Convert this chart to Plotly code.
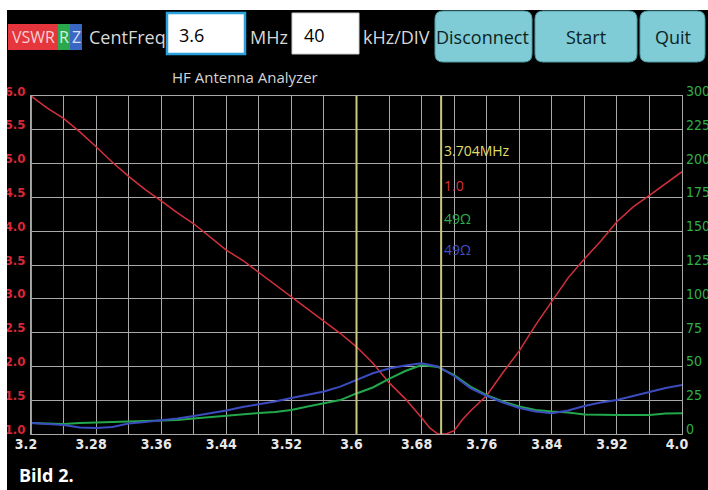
import plotly.graph_objects as go

# ---------------- data ----------------
vswr_freq = [3.20, 3.22, 3.24, 3.26, 3.28, 3.30, 3.32, 3.34, 3.36, 3.38, 3.40,
             3.42, 3.44, 3.46, 3.48, 3.50, 3.52, 3.54, 3.56, 3.58, 3.60, 3.62,
             3.64, 3.66, 3.68, 3.69, 3.70, 3.71, 3.72, 3.73, 3.74, 3.76, 3.78,
             3.80, 3.82, 3.84, 3.86, 3.88, 3.90, 3.92, 3.94, 3.96, 3.98, 4.00]
vswr = [6.00, 5.82, 5.67, 5.47, 5.25, 5.02, 4.81, 4.62, 4.45, 4.27, 4.11,
        3.91, 3.72, 3.57, 3.39, 3.20, 3.02, 2.85, 2.67, 2.49, 2.29, 2.05,
        1.76, 1.52, 1.24, 1.09, 1.00, 1.00, 1.05, 1.21, 1.34, 1.57, 1.91,
        2.23, 2.61, 2.97, 3.31, 3.59, 3.85, 4.14, 4.36, 4.53, 4.71, 4.88]

rz_freq = [3.20, 3.22, 3.24, 3.26, 3.28, 3.30, 3.32, 3.34, 3.36, 3.38, 3.40,
           3.42, 3.44, 3.46, 3.48, 3.50, 3.52, 3.54, 3.56, 3.58, 3.60, 3.62,
           3.64, 3.66, 3.68, 3.70, 3.72, 3.74, 3.76, 3.78, 3.80, 3.82, 3.84,
           3.86, 3.88, 3.90, 3.92, 3.94, 3.96, 3.98, 4.00]
r_ohm = [8.1, 7.8, 7.4, 8.1, 8.5, 8.5, 8.9, 9.2, 9.6, 10.4, 11.5,
         12.6, 13.7, 14.8, 15.5, 16.3, 17.8, 20.3, 22.9, 25.1, 30.0, 34.4,
         40.7, 46.6, 51.0, 49.6, 43.6, 35.1, 28.8, 24.0, 20.3, 17.8, 16.6,
         15.9, 14.4, 14.1, 14.1, 14.1, 14.1, 15.2, 15.3]
z_ohm = [8.1, 7.4, 6.7, 4.8, 4.4, 5.2, 7.8, 8.9, 10.0, 11.5, 13.3,
         15.2, 17.4, 20.0, 21.8, 24.0, 26.6, 28.8, 31.4, 35.0, 39.9, 44.9,
         48.4, 50.7, 52.3, 49.9, 42.9, 34.0, 28.1, 23.3, 19.2, 16.6, 15.3,
         17.4, 20.7, 23.3, 25.1, 28.1, 31.4, 34.0, 36.2]

x_tickvals = [3.2, 3.28, 3.36, 3.44, 3.52, 3.6, 3.68, 3.76, 3.84, 3.92, 4.0]
x_ticktext = ["3.2", "3.28", "3.36", "3.44", "3.52", "3.6", "3.68", "3.76", "3.84", "3.92", "4.0"]
y_tickvals = [1.0, 1.5, 2.0, 2.5, 3.0, 3.5, 4.0, 4.5, 5.0, 5.5, 6.0]
y_ticktext = ["1.0", "1.5", "2.0", "2.5", "3.0", "3.5", "4.0", "4.5", "5.0", "5.5", "6.0"]
y2_tickvals = [0, 25, 50, 75, 100, 125, 150, 175, 200, 225, 250]
y2_ticktext = ["0", "25", "50", "75", "100", "125", "150", "175", "200", "225", "300"]

center_freq = 3.6
marker_freq = 3.704
marker_texts = ["3.704MHz", "1.0", "49Ω", "49Ω"]

# ---------------- geometry helpers ----------------
W, H = 708, 490
L, R, T, B = 31, 682, 96, 434


def X(px):
    return (px - L) / (R - L)


def Y(py):
    return (B - py) / (B - T)


def rect(x0, y0, x1, y1, fill, line=None, lw=0):
    return dict(type="rect", xref="paper", yref="paper",
                x0=X(x0), x1=X(x1), y0=Y(y1), y1=Y(y0),
                fillcolor=fill, line=dict(color=line or fill, width=lw), layer="above")


def rrect(x0, y0, x1, y1, r, fill, line, lw=1):
    pts = [
        ("M", [(x0 + r, y0)]), ("L", [(x1 - r, y0)]), ("Q", [(x1, y0), (x1, y0 + r)]),
        ("L", [(x1, y1 - r)]), ("Q", [(x1, y1), (x1 - r, y1)]),
        ("L", [(x0 + r, y1)]), ("Q", [(x0, y1), (x0, y1 - r)]),
        ("L", [(x0, y0 + r)]), ("Q", [(x0, y0), (x0 + r, y0)]),
    ]
    path = ""
    for cmd, ps in pts:
        path += cmd + " " + " ".join(f"{X(a):.5f},{Y(b):.5f}" for a, b in ps) + " "
    path += "Z"
    return dict(type="path", xref="paper", yref="paper", path=path,
                fillcolor=fill, line=dict(color=line, width=lw), layer="above")


def txt(s, px, py, color, size, anchor="left", bold=False, family="Open Sans, Noto Sans, sans-serif"):
    return dict(text=f"<b>{s}</b>" if bold else s, xref="paper", yref="paper",
                x=X(px), y=Y(py), xanchor=anchor, yanchor="middle", showarrow=False,
                font=dict(color=color, size=size, family=family))


TICKFONT = "DejaVu Sans Condensed, DejaVu Sans, sans-serif"
GRID = "#a8a8a8"

fig = go.Figure()
fig.add_trace(go.Scatter(x=vswr_freq, y=vswr, mode="lines", yaxis="y",
                         line=dict(color="#d4303c", width=1.5), name="VSWR"))
fig.add_trace(go.Scatter(x=rz_freq, y=r_ohm, mode="lines", yaxis="y2",
                         line=dict(color="#22a84a", width=2), name="R"))
fig.add_trace(go.Scatter(x=rz_freq, y=z_ohm, mode="lines", yaxis="y2",
                         line=dict(color="#3c4cc0", width=2), name="Z"))

shapes = []
# white frame corners of the screenshot
shapes.append(rect(0, 0, W, 10, "#ffffff"))
shapes.append(rect(0, 0, 7, H, "#ffffff"))
# left orange edge
shapes.append(dict(type="line", xref="x", yref="paper", x0=3.2, x1=3.2, y0=0, y1=1,
                   line=dict(color="#e0902a", width=2), layer="above"))
# center and marker lines
for f in (center_freq, marker_freq):
    shapes.append(dict(type="line", xref="x", yref="paper", x0=f, x1=f, y0=0, y1=1,
                       line=dict(color="#c8c880", width=2), layer="above"))
# toolbar
shapes.append(rect(8, 24, 58, 50, "#e4363c"))
shapes.append(rect(58, 24, 70, 50, "#2aa84c"))
shapes.append(rect(70, 24, 82, 50, "#3a66c4"))
shapes.append(rect(167, 13, 245, 54, "#ffffff", "#2aa0dc", 2.5))
shapes.append(rect(292, 13, 359, 54, "#ffffff", "#cccccc", 1))
shapes.append(rrect(435, 11, 532, 62, 8, "#7fccd6", "#4e9aa2", 1))
shapes.append(rrect(535, 11, 637, 62, 8, "#7fccd6", "#4e9aa2", 1))
shapes.append(rrect(640, 11, 705, 62, 8, "#7fccd6", "#4e9aa2", 1))

annotations = [
    txt("VSWR", 33, 37, "#f6d0d0", 16, "center"),
    txt("R", 64, 37, "#d8f0d8", 16, "center"),
    txt("Z", 76, 37, "#d8e0f8", 16, "center"),
    txt("CentFreq", 87, 37, "#d8d8d8", 18),
    txt("3.6", 177, 35, "#000000", 18),
    txt("MHz", 248, 37, "#d8d8d8", 18),
    txt("40", 302, 35, "#000000", 18),
    txt("kHz/DIV", 361, 37, "#d8d8d8", 18),
    txt("Disconnect", 483, 37, "#0c2424", 18, "center"),
    txt("Start", 586, 37, "#0c2424", 18, "center"),
    txt("Quit", 673, 37, "#0c2424", 18, "center"),
    txt("HF Antenna Analyzer", 170, 77, "#d4d4d4", 15),
    txt("Bild 2.", 17, 475, "#ffffff", 18, bold=True),
    txt(marker_texts[0], 442, 150, "#e2de6c", 14),
    txt(marker_texts[1], 442, 185, "#d8303c", 14),
    txt(marker_texts[2], 442, 218, "#2cb050", 14),
    txt(marker_texts[3], 442, 249, "#4050c4", 14),
]

fig.update_layout(
    width=W, height=H,
    margin=dict(l=L, r=W - R, t=T, b=H - B, autoexpand=False),
    paper_bgcolor="#000000", plot_bgcolor="#000000",
    showlegend=False,
    shapes=shapes, annotations=annotations,
    xaxis=dict(range=[3.2, 4.0], tickvals=x_tickvals, ticktext=x_ticktext,
               showgrid=True, gridcolor=GRID, gridwidth=1, zeroline=False,
               showline=True, linecolor=GRID, linewidth=1, mirror=True,
               ticks="", ticklabelshift=-5, ticklabelstandoff=-3, automargin=False,
               tickfont=dict(color="#e8e8e8", size=14, family=TICKFONT, weight=600),
               minor=dict(tick0=3.2, dtick=0.04, showgrid=True, gridcolor=GRID, gridwidth=1)),
    yaxis=dict(range=[1, 6], tickvals=y_tickvals, ticktext=y_ticktext,
               showgrid=True, gridcolor=GRID, gridwidth=1, zeroline=False,
               showline=True, linecolor=GRID, linewidth=1, mirror=True,
               ticks="", ticklabelshift=-5, ticklabelstandoff=2, automargin=False,
               tickfont=dict(color="#d82838", size=13, family=TICKFONT, weight=600)),
    yaxis2=dict(range=[0, 250], overlaying="y", side="right",
                tickvals=y2_tickvals, ticktext=y2_ticktext,
                showgrid=False, zeroline=False, showline=False, automargin=False,
                ticks="", ticklabelshift=-5, ticklabelstandoff=3,
                tickfont=dict(color="#30b048", size=14, family=TICKFONT)),
)

fig.write_html("out.html", config={"displayModeBar": False},
               post_script="document.body.style.margin='0';document.body.style.overflow='hidden';")
